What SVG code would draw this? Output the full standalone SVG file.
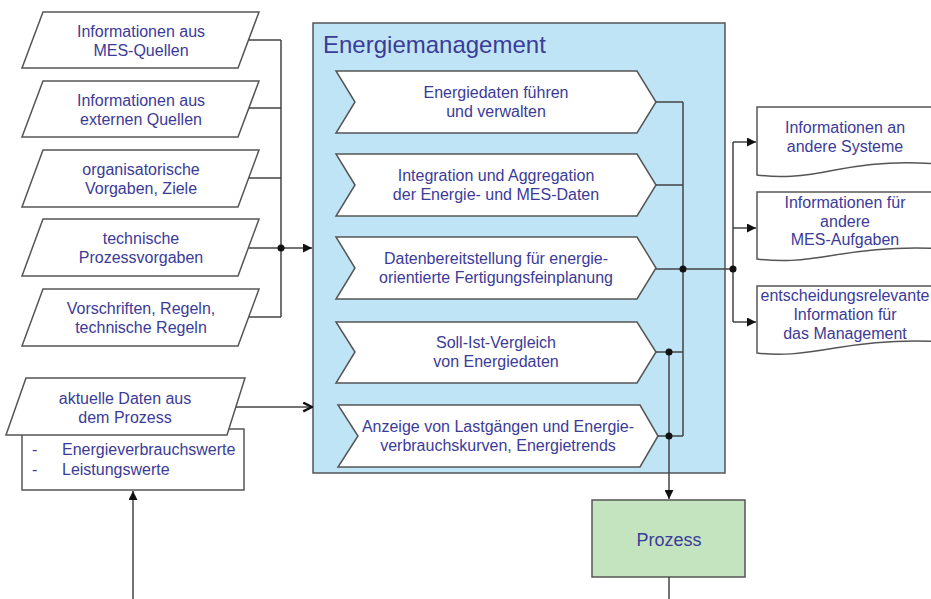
<svg xmlns="http://www.w3.org/2000/svg" width="931" height="599" viewBox="0 0 931 599">
<defs>
<style>
.shape{fill:#fff;stroke:#555;stroke-width:1.5}
.t{font-family:"Liberation Sans",Arial,sans-serif;font-size:16px;fill:#3b3b98;text-anchor:middle}
.tl{font-family:"Liberation Sans",Arial,sans-serif;font-size:16px;fill:#3b3b98}
.ln{fill:none;stroke:#444;stroke-width:1.5}
.dot{fill:#111}
</style>
<marker id="tri" viewBox="0 0 10 10" refX="10" refY="5" markerWidth="9" markerHeight="9" markerUnits="userSpaceOnUse" orient="auto">
<path d="M0,0 L10,5 L0,10 Z" fill="#111"/>
</marker>
<marker id="open" viewBox="0 0 10 10" refX="9" refY="5" markerWidth="11" markerHeight="11" markerUnits="userSpaceOnUse" orient="auto">
<path d="M1,1 L9,5 L1,9" fill="none" stroke="#111" stroke-width="2.2"/>
</marker>
</defs>

<g id="energiemanagement">
<rect x="313" y="23" width="412" height="450" fill="#bfe4f6" stroke="#555" stroke-width="1.5"/>
<text x="323" y="53" font-family="'Liberation Sans',Arial,sans-serif" font-size="24" fill="#3b3b98">Energiemanagement</text>
</g>

<g id="in1"><path class="shape" d="M43,12 H259 L238,68 H22 Z"/><text class="t" x="141" y="37">Informationen aus</text><text class="t" x="141" y="56">MES-Quellen</text></g>
<g id="in2"><path class="shape" d="M43,81 H259 L238,137 H22 Z"/><text class="t" x="141" y="106">Informationen aus</text><text class="t" x="141" y="125">externen Quellen</text></g>
<g id="in3"><path class="shape" d="M43,150 H259 L238,207 H22 Z"/><text class="t" x="141" y="175">organisatorische</text><text class="t" x="141" y="194">Vorgaben, Ziele</text></g>
<g id="in4"><path class="shape" d="M43,219 H259 L238,276 H22 Z"/><text class="t" x="141" y="244">technische</text><text class="t" x="141" y="263">Prozessvorgaben</text></g>
<g id="in5"><path class="shape" d="M43,289 H259 L238,346 H22 Z"/><text class="t" x="141" y="314">Vorschriften, Regeln,</text><text class="t" x="141" y="333">technische Regeln</text></g>

<g id="in6">
<rect class="shape" x="22" y="429" width="222" height="61"/>
<path class="shape" d="M26,378 H245 L227,435 H6 Z"/>
<text class="t" x="125" y="404">aktuelle Daten aus</text><text class="t" x="125" y="423">dem Prozess</text>
<text class="tl" x="32" y="455">-</text><text class="tl" x="62" y="455">Energieverbrauchswerte</text>
<text class="tl" x="32" y="475">-</text><text class="tl" x="62" y="475">Leistungswerte</text>
</g>

<g id="c1"><path class="shape" d="M336,71 H637 L656,102 L637,133 H336 L355,102 Z"/><text class="t" x="496" y="98">Energiedaten führen</text><text class="t" x="496" y="117">und verwalten</text></g>
<g id="c2"><path class="shape" d="M336,154 H637 L656,185 L637,216 H336 L355,185 Z"/><text class="t" x="496" y="181">Integration und Aggregation</text><text class="t" x="496" y="200">der Energie- und MES-Daten</text></g>
<g id="c3"><path class="shape" d="M336,237 H637 L656,268 L637,299 H336 L355,268 Z"/><text class="t" x="496" y="264">Datenbereitstellung für energie-</text><text class="t" x="496" y="283">orientierte Fertigungsfeinplanung</text></g>
<g id="c4"><path class="shape" d="M336,322 H637 L656,352 L637,383 H336 L355,352 Z"/><text class="t" x="496" y="348">Soll-Ist-Vergleich</text><text class="t" x="496" y="367">von Energiedaten</text></g>
<g id="c5"><path class="shape" d="M338,405 H640 L658,436 L640,467 H338 L358,436 Z"/><text class="t" x="498" y="432">Anzeige von Lastgängen und Energie-</text><text class="t" x="498" y="451">verbrauchskurven, Energietrends</text></g>

<g id="out1"><path class="shape" d="M757,107 H945 V165 C905,160 870,163 835,170 C800,177 780,178 757,175 Z"/><text class="t" x="845" y="133">Informationen an</text><text class="t" x="845" y="152">andere Systeme</text></g>
<g id="out2"><path class="shape" d="M757,192 H945 V249 C905,246 870,249 835,255 C800,261 780,262 757,259 Z"/><text class="t" x="845" y="208">Informationen für</text><text class="t" x="845" y="227">andere</text><text class="t" x="845" y="245">MES-Aufgaben</text></g>
<g id="out3"><path class="shape" d="M757,286 H945 V342 C905,339 870,342 835,348 C800,354 780,356 757,353 Z"/><text class="t" x="845" y="301">entscheidungsrelevante</text><text class="t" x="845" y="320">Information für</text><text class="t" x="845" y="339">das Management</text></g>

<g id="prozess"><rect x="592" y="500" width="153" height="77" fill="#c4e4c0" stroke="#555" stroke-width="1.5"/><text x="669" y="546" font-family="'Liberation Sans',Arial,sans-serif" font-size="18" fill="#3b3b98" text-anchor="middle">Prozess</text></g>

<g id="connectors">
<path class="ln" d="M249,40 H281 M249,108 H281 M249,178 H281 M249,317 H281 M281,40 V317"/>
<path class="ln" d="M249,248 H312" marker-end="url(#tri)"/>
<circle class="dot" cx="281" cy="248" r="3.5"/>
<path class="ln" d="M236,407 H312" marker-end="url(#open)"/>
<path class="ln" d="M133,599 V491" marker-end="url(#tri)"/>
<path class="ln" d="M656,102 H683 M656,185 H683 M656,352 H683 M658,436 H683 M683,102 V436"/>
<path class="ln" d="M656,269 H733 M733,142 V322"/>
<circle class="dot" cx="683" cy="269" r="3.5"/>
<circle class="dot" cx="733" cy="269" r="3.5"/>
<path class="ln" d="M733,142 H756" marker-end="url(#tri)"/>
<path class="ln" d="M733,228 H756" marker-end="url(#tri)"/>
<path class="ln" d="M733,322 H756" marker-end="url(#tri)"/>
<path class="ln" d="M669,352 V499" marker-end="url(#tri)"/>
<circle class="dot" cx="669" cy="352" r="3.5"/>
<circle class="dot" cx="669" cy="436" r="3.5"/>
<path class="ln" d="M669,577 V599"/>
</g>
</svg>
